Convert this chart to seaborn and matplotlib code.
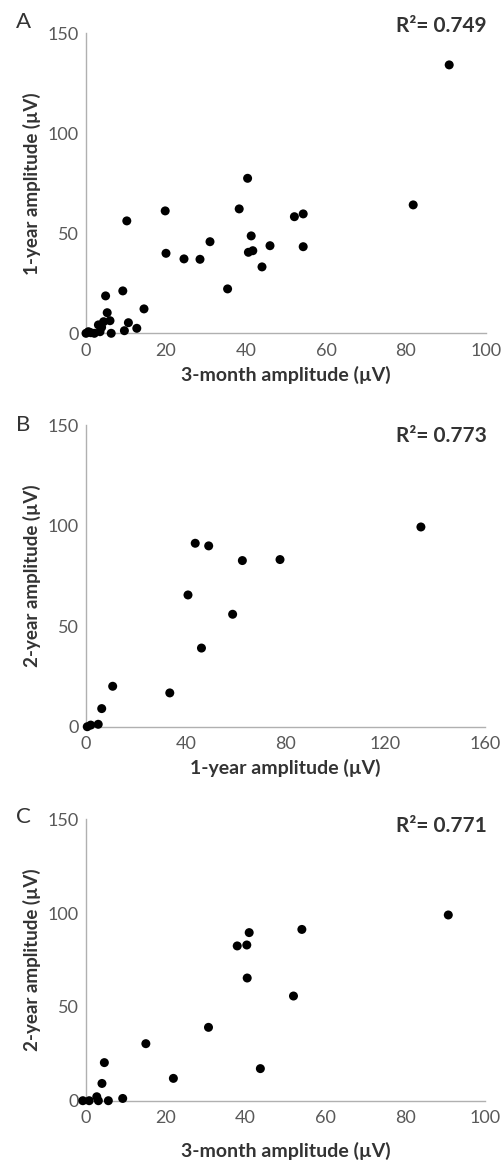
import matplotlib
matplotlib.use("Agg")
import matplotlib.pyplot as plt
import seaborn as sns
import pandas as pd

# panel A: 3-month vs 1-year amplitude
a_x = [90.8, 81.8, 40.4, 38.3, 19.8, 10.2, 52.1, 54.3, 41.3, 31.0, 46.0, 54.3,
       41.7, 40.6, 20.0, 24.5, 28.5, 44.0, 35.4, 9.2, 4.9, 14.5, 5.3, 6.0,
       4.4, 3.1, 3.9, 10.6, 12.7, 9.6, 6.3, 3.5, 2.1, 1.2, 0.6, 0.0]
a_y = [134.2, 64.2, 77.5, 62.2, 61.2, 56.2, 58.3, 59.7, 48.7, 45.8, 43.8, 43.3,
       41.3, 40.5, 40.0, 37.2, 37.0, 33.2, 22.2, 21.2, 18.7, 12.2, 10.3, 6.3,
       5.8, 4.2, 3.0, 5.3, 2.5, 1.3, 0.0, 0.8, 0.0, 0.3, 0.8, 0.0]

# panel B: 1-year vs 2-year amplitude
b_x = [134.3, 43.8, 49.2, 62.7, 77.8, 40.9, 58.8, 46.3, 10.7, 33.6, 6.3, 4.9, 1.9, 0.5]
b_y = [99.3, 91.2, 89.9, 82.6, 83.1, 65.5, 55.9, 39.1, 20.1, 16.8, 9.0, 1.2, 0.8, 0.0]

# panel C: 3-month vs 2-year amplitude
c_x = [90.8, 54.1, 40.9, 37.9, 40.3, 40.4, 52.0, 30.7, 15.0, 4.6, 43.7, 21.9,
       4.0, 9.2, 5.6, -0.8, 0.8, 2.7, 3.1]
c_y = [99.0, 91.3, 89.6, 82.5, 83.0, 65.4, 55.8, 39.1, 30.4, 20.3, 17.1, 11.9,
       9.2, 1.2, 0.0, 0.0, 0.0, 2.1, 0.0]

panels = [
    ("A", a_x, a_y, "3-month amplitude (\u00b5V)", "1-year amplitude (\u00b5V)", "0.749",
     100, [0, 20, 40, 60, 80, 100]),
    ("B", b_x, b_y, "1-year amplitude (\u00b5V)", "2-year amplitude (\u00b5V)", "0.773",
     160, [0, 40, 80, 120, 160]),
    ("C", c_x, c_y, "3-month amplitude (\u00b5V)", "2-year amplitude (\u00b5V)", "0.771",
     100, [0, 20, 40, 60, 80, 100]),
]

sns.set_style("white")
plt.rcParams['font.family'] = ['Lato', 'DejaVu Sans']

W, H = 504, 1163
fig = plt.figure(figsize=(W / 100, H / 100), dpi=100)
# axes boxes in pixels: left, top(150), right, bottom(0)
boxes = [(86, 33.3, 486, 333.3), (86, 425, 485, 726.7), (86, 819.3, 485, 1100.7)]
xlabel_pads = [5, 5, 11]
r2_base = [32, 442, 832]      # baseline of R² text, pixels from top
letter_mid = [22, 425, 817]   # vertical centre of panel letter

for i, (letter, xs, ys, xlab, ylab, r2, xmax, xticks) in enumerate(panels):
    l, t, r, b = boxes[i]
    ax = fig.add_axes([l / W, 1 - b / H, (r - l) / W, (b - t) / H])
    df = pd.DataFrame({"x": xs, "y": ys})
    sns.scatterplot(data=df, x="x", y="y", ax=ax, color="black", s=42,
                    edgecolor="none", clip_on=False, zorder=3)
    ax.set_xlim(0, xmax)
    ax.set_ylim(0, 150)
    ax.set_xticks(xticks)
    ax.set_yticks([0, 50, 100, 150])
    for side in ["top", "right"]:
        ax.spines[side].set_visible(False)
    for side in ["left", "bottom"]:
        ax.spines[side].set_color("#b0b0b0")
        ax.spines[side].set_linewidth(1.0)
    ax.tick_params(axis="both", direction="out", length=3, width=1,
                   color="#b0b0b0", labelcolor="#595959", labelsize=13)
    ax.tick_params(axis="x", pad=4)
    ax.tick_params(axis="y", pad=2)
    ax.set_xlabel(xlab, fontsize=14, fontweight="bold", color="#333333", labelpad=xlabel_pads[i])
    ax.set_ylabel(ylab, fontsize=13.5, fontweight="bold", color="#333333", labelpad=5)
    fig.text(487 / W, 1 - r2_base[i] / H, "R\u00b2= " + r2, ha="right", va="baseline",
             fontsize=15, fontweight="bold", color="#333333")
    fig.text(16 / W, 1 - letter_mid[i] / H, letter, ha="left", va="center",
             fontsize=16, color="#333333")

fig.savefig("out.png", dpi=100)
